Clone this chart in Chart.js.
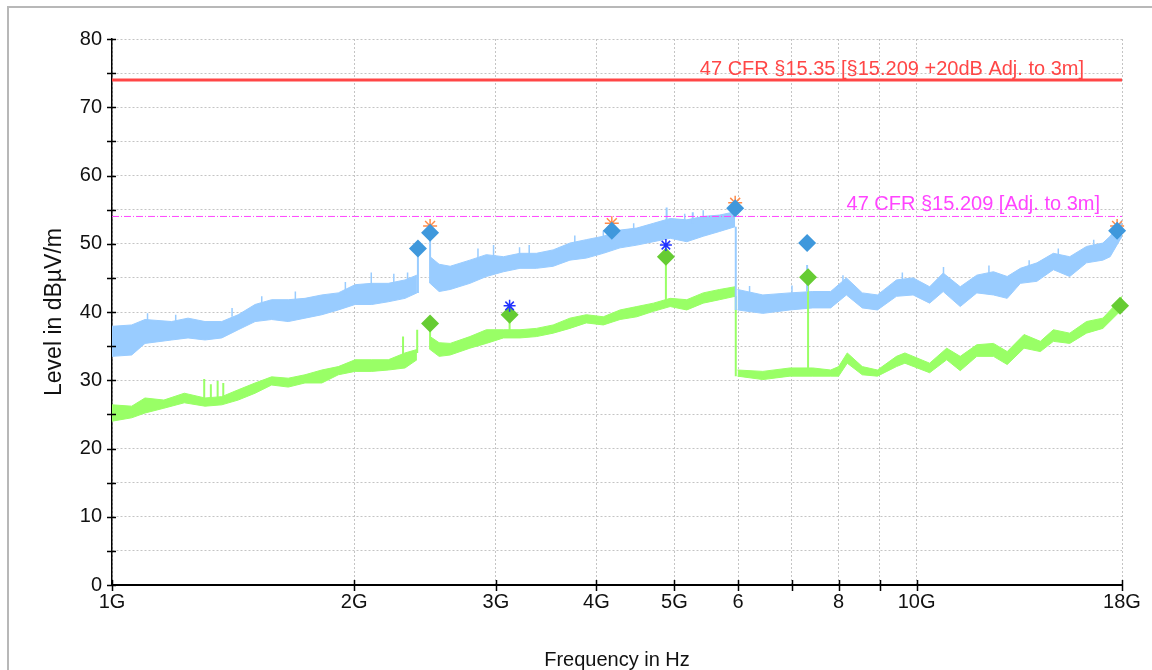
<!DOCTYPE html>
<html>
<head>
<meta charset="utf-8">
<script src="https://cdn.jsdelivr.net/npm/chart.js@4.4.1/dist/chart.umd.min.js"></script>
<style>
  html, body { margin: 0; padding: 0; background: #fff; }
  canvas { display: block; }
</style>
</head>
<body>
<canvas id="emcChart" width="1152" height="670"></canvas>
<script>
// frequencies in GHz, levels in dBuV/m
const xTicks = [1, 2, 3, 4, 5, 6, 7, 8, 9, 10, 18];
const xTickLabels = ['1G', '2G', '3G', '4G', '5G', '6', '', '8', '', '10G', '18G'];

// peak trace (blue), split where the sweep has gaps / range changes
const peakFreq1 = [1.0, 1.058, 1.099, 1.186, 1.243, 1.305, 1.369, 1.435, 1.506, 1.579, 1.656, 1.737, 1.823, 1.911, 2.005, 2.103, 2.205, 2.313, 2.393];
const peakHi1   = [37.9, 38.1, 38.9, 38.6, 39.1, 38.6, 38.6, 39.6, 41.1, 41.8, 41.8, 42.0, 42.5, 42.8, 44.0, 44.2, 44.2, 44.7, 45.4];
const peakLo1   = [33.5, 33.7, 35.4, 35.9, 36.2, 35.9, 36.2, 37.4, 38.6, 38.9, 38.6, 39.1, 39.6, 40.3, 41.1, 41.1, 41.5, 42.0, 42.8];

const peakFreq2 = [2.485, 2.55, 2.632, 2.785, 2.919, 3.066, 3.214, 3.369, 3.534, 3.708, 3.886, 4.08, 4.28, 4.49, 4.71, 4.94, 5.18, 5.43, 5.69, 5.95];
const peakHi2   = [48.1, 47.0, 46.7, 47.6, 48.4, 48.1, 48.6, 48.6, 49.1, 50.1, 50.6, 51.1, 52.0, 52.3, 53.0, 53.7, 53.5, 54.0, 54.2, 54.7];
const peakLo2   = [44.2, 43.0, 43.3, 44.2, 45.2, 45.9, 46.4, 46.4, 46.7, 47.6, 47.9, 48.6, 49.4, 49.8, 50.3, 50.8, 50.3, 51.1, 51.8, 52.5];

const peakFreq3 = [5.99, 6.44, 6.96, 7.43, 7.82, 8.18, 8.56, 8.94, 9.44, 9.9, 10.38, 10.79, 11.33, 11.88, 12.46, 12.96, 13.46, 14.11, 14.79, 15.5, 16.26, 17.04, 17.4, 17.9, 18.0];
const peakHi3   = [43.3, 42.5, 42.8, 43.0, 43.0, 45.0, 42.8, 42.5, 44.7, 45.0, 43.7, 45.7, 43.7, 45.4, 45.9, 45.2, 46.4, 47.2, 48.6, 48.1, 49.6, 50.1, 51.1, 53.0, 53.5];
const peakLo3   = [40.3, 39.8, 40.3, 40.6, 40.6, 42.5, 40.6, 40.3, 42.3, 42.5, 41.3, 43.0, 40.8, 42.8, 42.5, 42.0, 44.2, 44.5, 46.2, 45.2, 47.2, 47.6, 48.1, 50.6, 51.0];

// average trace (green)
const avgFreq1 = [1.0, 1.058, 1.099, 1.16, 1.23, 1.305, 1.369, 1.435, 1.506, 1.579, 1.656, 1.737, 1.823, 1.911, 2.005, 2.103, 2.205, 2.313, 2.393];
const avgHi1   = [26.4, 26.2, 27.4, 27.1, 28.1, 27.4, 27.6, 28.6, 29.6, 30.5, 30.3, 30.8, 31.5, 32.0, 33.0, 33.0, 33.0, 34.0, 34.5];
const avgLo1   = [24.0, 24.5, 25.2, 25.9, 26.7, 26.2, 26.4, 27.1, 28.1, 29.3, 29.0, 29.6, 29.6, 30.8, 31.3, 31.3, 31.5, 31.8, 33.0];

const avgFreq2 = [2.485, 2.55, 2.632, 2.785, 2.919, 3.066, 3.214, 3.369, 3.534, 3.708, 3.886, 4.08, 4.28, 4.49, 4.71, 4.94, 5.18, 5.43, 5.69, 5.95];
const avgHi2   = [36.4, 35.5, 35.4, 36.4, 37.4, 37.4, 37.4, 37.6, 38.1, 39.1, 39.6, 39.3, 40.3, 40.8, 41.3, 42.0, 41.8, 42.8, 43.3, 43.7];
const avgLo2   = [34.5, 33.5, 33.7, 34.7, 35.4, 36.2, 36.2, 36.4, 36.9, 37.6, 38.4, 38.1, 38.9, 39.3, 40.1, 40.8, 40.3, 41.3, 41.8, 42.3];

const avgFreq3 = [5.99, 6.44, 6.96, 7.43, 7.82, 8.0, 8.2, 8.56, 8.94, 9.44, 9.67, 10.38, 10.9, 11.33, 11.88, 12.46, 12.96, 13.6, 14.25, 14.79, 15.5, 16.26, 17.04, 17.9, 18.0];
const avgHi3   = [31.5, 31.3, 31.8, 31.8, 31.5, 32.0, 34.0, 32.0, 31.5, 33.5, 34.0, 32.5, 34.7, 33.5, 35.2, 35.4, 34.2, 36.7, 35.7, 37.4, 36.9, 38.6, 39.1, 41.8, 42.3];
const avgLo3   = [30.6, 30.1, 30.6, 30.6, 30.6, 30.6, 32.5, 30.8, 30.6, 32.0, 32.5, 31.1, 33.0, 31.4, 33.5, 33.5, 32.3, 34.7, 34.2, 35.7, 35.4, 36.9, 37.6, 40.1, 40.6];

// narrow spikes / steps (drawn as thin vertical lines)
const peakSpikeFreq = [2.40, 2.485, 4.89, 5.27, 5.96, 7.31];
const peakSpikeLo   = [42.8, 44.2, 53.0, 53.0, 40.3, 43.0];
const peakSpikeHi   = [49.3, 51.6, 55.3, 54.6, 52.5, 46.9];

// noise peaks sticking out of the top of the peak trace
const peakNoiseFreq = [1.107, 1.2, 1.41, 1.535, 1.69, 1.95, 2.10, 2.24, 2.33, 2.85, 2.98, 3.21, 3.30, 3.76, 4.08, 4.45, 5.15, 5.43, 6.2, 7.0, 8.1, 9.6, 10.8, 12.3, 13.8, 15.0, 16.6];
const peakNoiseLo   = [38.5, 38.5, 39.3, 41.0, 41.8, 42.6, 44.0, 44.0, 44.5, 47.5, 48.0, 48.4, 48.4, 50.1, 50.9, 52.0, 53.3, 53.8, 42.5, 42.6, 44.0, 44.5, 45.5, 45.5, 46.5, 48.0, 49.6];
const peakNoiseHi   = [39.8, 39.6, 40.6, 42.3, 43.0, 44.4, 45.8, 45.6, 45.8, 49.3, 49.8, 49.5, 49.8, 51.2, 51.9, 53.0, 54.4, 54.9, 43.8, 43.9, 45.4, 45.8, 46.6, 46.8, 47.6, 49.3, 50.6];

const avgSpikeFreq = [1.302, 1.327, 1.353, 1.375, 2.30, 2.395, 2.485, 3.12, 4.88, 5.96, 7.33];
const avgSpikeLo   = [27.4, 27.4, 27.4, 27.4, 33.5, 34.0, 34.5, 37.0, 41.3, 30.6, 31.3];
const avgSpikeHi   = [30.2, 29.4, 29.9, 29.6, 36.4, 37.4, 38.3, 39.6, 48.1, 42.3, 45.1];

// final measurement markers
const peakMarkFreq = [2.40, 2.485, 4.18, 5.95, 7.31, 17.75];
const peakMarkVal  = [49.3, 51.6, 51.9, 55.2, 50.1, 51.9];
const avgMarkFreq  = [2.485, 3.12, 4.88, 7.33, 17.9];
const avgMarkVal   = [38.3, 39.6, 48.1, 45.1, 40.9];
const peakStarFreq = [2.485, 4.18, 5.95, 17.75];
const peakStarVal  = [52.6, 53.0, 56.0, 52.6];
const avgStarFreq  = [3.12, 4.88];
const avgStarVal   = [40.9, 49.8];

// limit lines
const limitFreq = [1, 18];
const peakLimit = [74, 74];
const avgLimit  = [54, 54];
const peakLimitLabel = '47 CFR §15.35 [§15.209 +20dB Adj. to 3m]';
const avgLimitLabel  = '47 CFR §15.209 [Adj. to 3m]';

const FONT = "'Liberation Sans', Arial, sans-serif";
const blueBand = '#99ccff';
const greenBand = '#99ff66';
const blueMark = '#3f98dc';
const greenMark = '#66cc33';
const red = '#ff4646';
const magenta = '#ff44ff';

function pts(xs, ys) {
    return xs.map((x, i) => ({ x: x, y: ys[i] }));
}

function spikePts(xs, lo, hi) {
    const out = [];
    xs.forEach((x, i) => {
        out.push({ x: x, y: lo[i] }, { x: x, y: hi[i] }, { x: x, y: null });
    });
    return out;
}

function band(xs, hi, lo, color) {
    return [
        { data: pts(xs, hi), borderColor: color, backgroundColor: color, borderWidth: 1, pointRadius: 0, fill: '+1', order: 10 },
        { data: pts(xs, lo), borderColor: color, backgroundColor: color, borderWidth: 1, pointRadius: 0, fill: false, order: 10 }
    ];
}

const frame = {
    id: 'frame',
    beforeDraw(chart) {
        const ctx = chart.ctx;
        ctx.save();
        ctx.fillStyle = '#fff';
        ctx.fillRect(0, 0, chart.width, chart.height);
        ctx.strokeStyle = '#b8b8b8';
        ctx.lineWidth = 2;
        ctx.beginPath();
        ctx.moveTo(8, chart.height);
        ctx.lineTo(8, 7);
        ctx.lineTo(chart.width, 7);
        ctx.stroke();
        ctx.restore();
    }
};

const crossTicks = {
    id: 'crossTicks',
    afterDraw(chart) {
        const { ctx, chartArea, scales: { x, y } } = chart;
        ctx.save();
        ctx.strokeStyle = '#000';
        ctx.lineWidth = 1.5;
        ctx.beginPath();
        y.ticks.forEach(t => {
            const py = Math.round(y.getPixelForValue(t.value)) + 0.5;
            ctx.moveTo(chartArea.left - 5, py);
            ctx.lineTo(chartArea.left + 4, py);
        });
        x.ticks.forEach(t => {
            const px = Math.round(x.getPixelForValue(t.value)) + 0.5;
            ctx.moveTo(px, chartArea.bottom - 5);
            ctx.lineTo(px, chartArea.bottom + 6);
        });
        ctx.stroke();

        // limit line captions
        ctx.font = '20px ' + FONT;
        ctx.textAlign = 'right';
        ctx.textBaseline = 'alphabetic';
        ctx.fillStyle = red;
        ctx.fillText(peakLimitLabel, chartArea.right - 38, y.getPixelForValue(peakLimit[0]) - 5);
        ctx.fillStyle = magenta;
        ctx.fillText(avgLimitLabel, chartArea.right - 22, y.getPixelForValue(avgLimit[0]) - 6);
        ctx.restore();
    }
};

const datasets = [
    ...band(peakFreq1, peakHi1, peakLo1, blueBand),
    ...band(peakFreq2, peakHi2, peakLo2, blueBand),
    ...band(peakFreq3, peakHi3, peakLo3, blueBand),
    ...band(avgFreq1, avgHi1, avgLo1, greenBand),
    ...band(avgFreq2, avgHi2, avgLo2, greenBand),
    ...band(avgFreq3, avgHi3, avgLo3, greenBand),
    { data: spikePts(peakSpikeFreq, peakSpikeLo, peakSpikeHi), borderColor: blueBand, borderWidth: 2, pointRadius: 0, order: 9 },
    { data: spikePts(peakNoiseFreq, peakNoiseLo, peakNoiseHi), borderColor: blueBand, borderWidth: 1.5, pointRadius: 0, order: 9 },
    { data: spikePts(avgSpikeFreq, avgSpikeLo, avgSpikeHi), borderColor: greenBand, borderWidth: 2, pointRadius: 0, order: 9 },
    { data: pts(limitFreq, peakLimit), borderColor: red, borderWidth: 3, pointRadius: 0, order: 5 },
    { data: pts(limitFreq, avgLimit), borderColor: magenta, borderWidth: 1, borderDash: [7, 2, 1, 2], pointRadius: 0, order: 5 },
    { data: pts(peakStarFreq, peakStarVal), showLine: false, pointStyle: 'star', pointRadius: 7, borderColor: '#ff8c4a', borderWidth: 1.5, order: 3, clip: false },
    { data: pts(avgStarFreq, avgStarVal), showLine: false, pointStyle: 'star', pointRadius: 6, borderColor: '#2233ff', borderWidth: 1.5, order: 1, clip: false },
    { data: pts(peakMarkFreq, peakMarkVal), showLine: false, pointStyle: 'rectRot', pointRadius: 9, backgroundColor: blueMark, borderColor: blueMark, borderWidth: 0, order: 2, clip: false },
    { data: pts(avgMarkFreq, avgMarkVal), showLine: false, pointStyle: 'rectRot', pointRadius: 9, backgroundColor: greenMark, borderColor: greenMark, borderWidth: 0, order: 2, clip: false }
];

new Chart(document.getElementById('emcChart').getContext('2d'), {
    type: 'line',
    data: { datasets: datasets },
    plugins: [frame, crossTicks],
    options: {
        responsive: false,
        animation: false,
        devicePixelRatio: 1,
        spanGaps: false,
        layout: { padding: { top: 39, right: 30, left: 0, bottom: 0 } },
        elements: { line: { tension: 0 } },
        plugins: {
            legend: { display: false },
            tooltip: { enabled: false }
        },
        scales: {
            x: {
                type: 'logarithmic',
                min: 1,
                max: 18,
                afterBuildTicks: function(scale) {
                    scale.ticks = xTicks.map(v => ({ value: v }));
                },
                afterFit: function(scale) { scale.height = 85; },
                grid: { color: '#c4c4c4', lineWidth: 1, drawTicks: false },
                border: { color: '#000', width: 2, dash: [2, 2] },
                ticks: {
                    autoSkip: false,
                    maxRotation: 0,
                    padding: 5,
                    color: '#111',
                    font: { family: FONT, size: 20 },
                    callback: function(v) {
                        const i = xTicks.indexOf(v);
                        return i >= 0 ? xTickLabels[i] : '';
                    }
                },
                title: {
                    display: true,
                    text: 'Frequency in Hz',
                    color: '#111',
                    font: { family: FONT, size: 20, lineHeight: 1 },
                    padding: { top: 0, bottom: 0 }
                }
            },
            y: {
                min: 0,
                max: 80,
                afterFit: function(scale) { scale.width = 112; },
                grid: { color: '#c4c4c4', lineWidth: 1, drawTicks: false },
                border: { color: '#000', width: 1.5, dash: [2, 2] },
                ticks: {
                    stepSize: 5,
                    padding: 10,
                    color: '#111',
                    font: { family: FONT, size: 20 },
                    callback: function(v) { return v % 10 === 0 ? v : ''; }
                },
                title: {
                    display: true,
                    text: 'Level in dBµV/m',
                    color: '#111',
                    font: { family: FONT, size: 23, lineHeight: 1.2 },
                    padding: { top: 41, bottom: 0 }
                }
            }
        }
    }
});
</script>
</body>
</html>
